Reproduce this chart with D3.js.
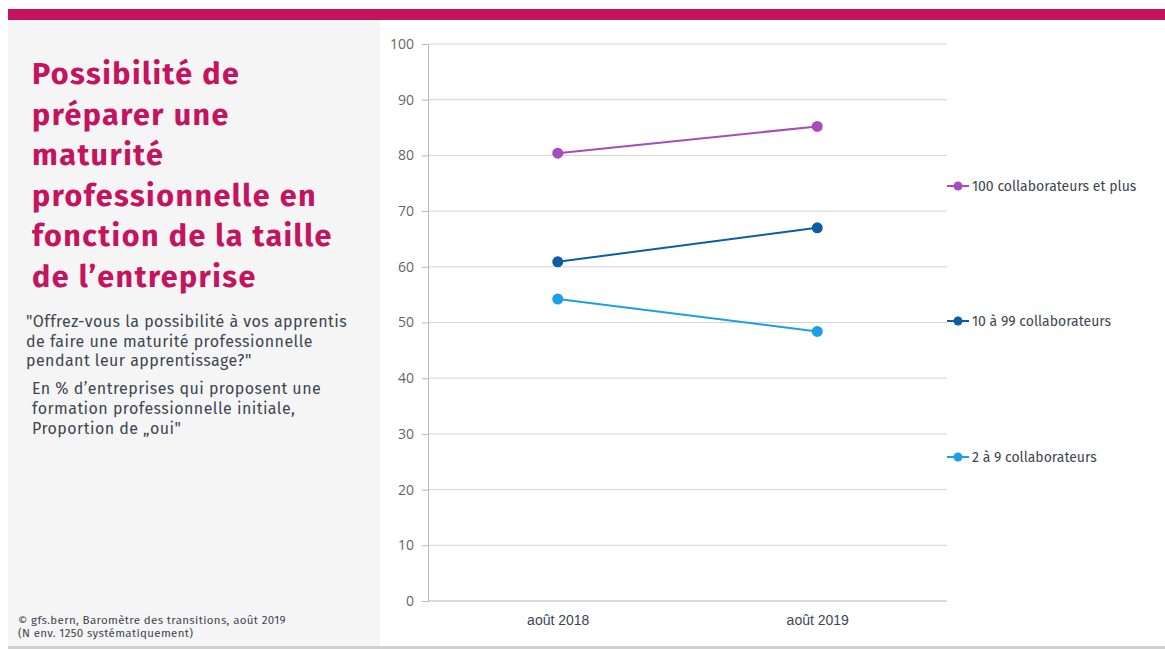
<!DOCTYPE html>
<html><head><meta charset="utf-8">
<script src="https://cdn.jsdelivr.net/npm/d3@7"></script>
<style>
body{margin:0;background:#fff;}
svg{display:block;font-family:"Fira Sans","Noto Sans","Open Sans",sans-serif;}
</style></head><body>
<svg id="c" width="1165" height="649"></svg>
<script>
const categories = ["août 2018", "août 2019"];
const seriesNames = ["100 collaborateurs et plus", "10 à 99 collaborateurs", "2 à 9 collaborateurs"];
const seriesBig = [80.4, 85.2];
const seriesMid = [60.9, 67.0];
const seriesSmall = [54.2, 48.4];
const yTicks = [0,10,20,30,40,50,60,70,80,90,100];
const colors = ["#a64cbf", "#0d5ca6", "#1d9fe6"];
const titleLines = ["Possibilité de","préparer une","maturité","professionnelle en","fonction de la taille","de l’entreprise"];
const questionLines = ["\"Offrez-vous la possibilité à vos apprentis","de faire une maturité professionnelle","pendant leur apprentissage?\""];
const noteLines = ["En % d’entreprises qui proposent une","formation professionnelle initiale,","Proportion de „oui\""];
const sourceLines = ["©  gfs.bern, Baromètre des transitions, août 2019","(N env. 1250 systématiquement)"];

const svg = d3.select("#c");
// top magenta band
svg.append("rect").attr("x",8).attr("y",9).attr("width",1157).attr("height",11).attr("fill","#c4135f");
// left panel
svg.append("rect").attr("x",8).attr("y",20).attr("width",372).attr("height",626).attr("fill","#f5f5f5");
// bottom line
svg.append("rect").attr("x",8).attr("y",646).attr("width",1157).attr("height",3).attr("fill","#d0d0d0");

const tg = svg.append("g");
tg.selectAll("text.t").data(titleLines).join("text")
  .attr("x",32).attr("y",(d,i)=>84+i*40.5)
  .attr("fill","#c4135f").attr("font-size",30.5).attr("font-weight",700)
  .attr("letter-spacing",1.45).text(d=>d);
tg.selectAll("text.q").data(questionLines).join("text")
  .attr("x",26).attr("y",(d,i)=>327+i*19.5)
  .attr("fill","#3d4650").attr("font-size",16).attr("letter-spacing",0.45).text(d=>d);
tg.selectAll("text.n").data(noteLines).join("text")
  .attr("x",32).attr("y",(d,i)=>394+i*20)
  .attr("fill","#3d4650").attr("font-size",16).attr("letter-spacing",0.45).text(d=>d);
tg.selectAll("text.s").data(sourceLines).join("text")
  .attr("x",18).attr("y",(d,i)=>624+i*13)
  .attr("fill","#3d4650").attr("font-size",11.5).attr("letter-spacing",0.35).text(d=>d);

// chart
const x0 = 428, x1 = 947, yTop = 44, yBot = 601;
const y = d3.scaleLinear().domain([0,100]).range([yBot,yTop]);
const x = d3.scalePoint().domain(categories).range([x0,x1]).padding(0.5);

// gridlines
svg.append("g").selectAll("line").data(yTicks.filter(t=>t>0)).join("line")
  .attr("x1",x0).attr("x2",x1).attr("y1",d=>y(d)).attr("y2",d=>y(d))
  .attr("stroke","#d4d4d4").attr("stroke-width",1);

const yAxis = svg.append("g").attr("transform",`translate(${x0},0)`)
  .call(d3.axisLeft(y).tickValues(yTicks).tickSize(6).tickPadding(8));
yAxis.select(".domain").attr("stroke","#b8b8b8");
yAxis.selectAll(".tick line").attr("stroke","#b8b8b8");
yAxis.selectAll("text").attr("fill","#666").attr("font-size",14).attr("font-family","'Open Sans',sans-serif");

const xAxis = svg.append("g").attr("transform",`translate(0,${yBot})`)
  .call(d3.axisBottom(x).tickSize(0).tickPadding(14));
xAxis.select(".domain").attr("stroke","#b8b8b8").attr("d",`M${x0},0H${x1}`);
xAxis.selectAll("text").attr("fill","#3d4650").attr("font-size",14);

const series = [seriesBig, seriesMid, seriesSmall];
const line = d3.line().x((d,i)=>x(categories[i])).y(d=>y(d));
series.forEach((s,k)=>{
  svg.append("path").datum(s).attr("d",line).attr("fill","none")
    .attr("stroke",colors[k]).attr("stroke-width",2);
  svg.append("g").selectAll("circle").data(s).join("circle")
    .attr("cx",(d,i)=>x(categories[i])).attr("cy",d=>y(d)).attr("r",5.5).attr("fill",colors[k]);
});

// legend
const legY = [186, 321, 457];
const lg = svg.append("g");
seriesNames.forEach((n,k)=>{
  const g = lg.append("g").attr("transform",`translate(947,${legY[k]})`);
  g.append("line").attr("x1",0).attr("x2",22).attr("stroke",colors[k]).attr("stroke-width",2);
  g.append("circle").attr("cx",11).attr("r",4.5).attr("fill",colors[k]);
  g.append("text").attr("x",25).attr("y",5).attr("font-size",14).attr("fill","#3d4650").text(n);
});
</script>
</body></html>
